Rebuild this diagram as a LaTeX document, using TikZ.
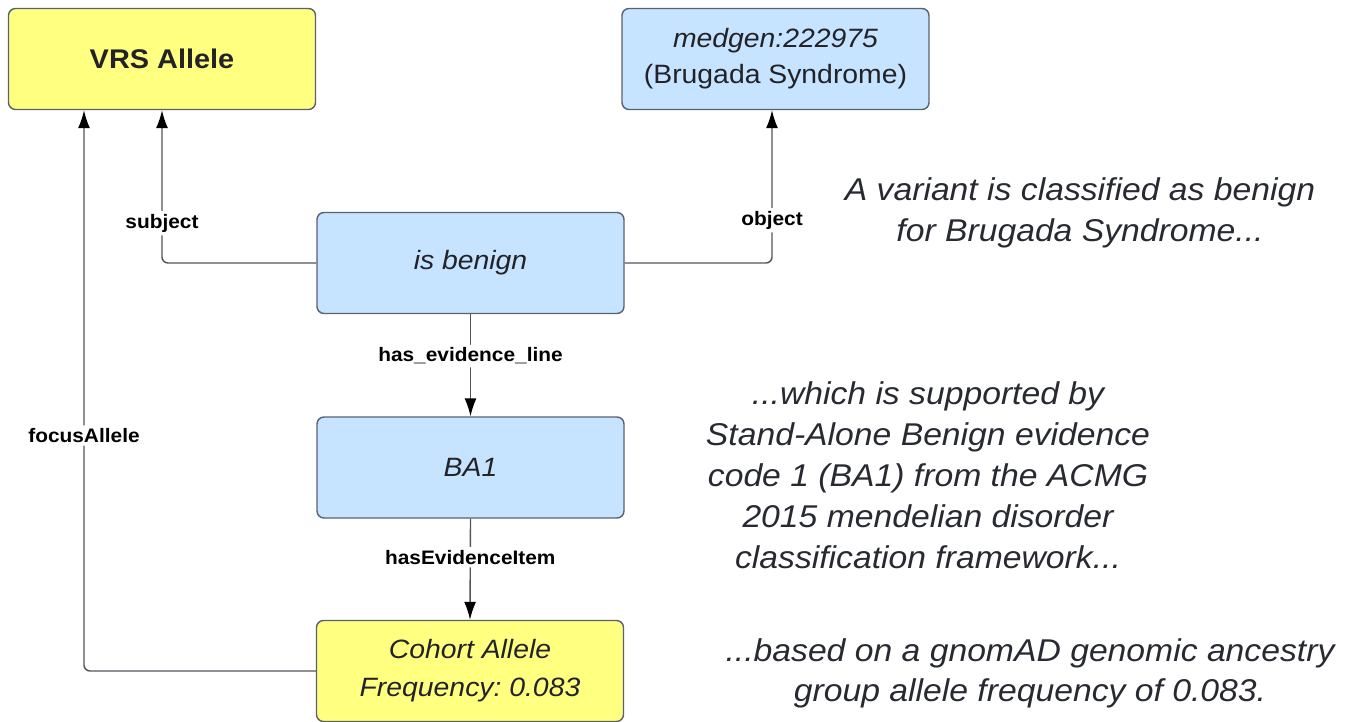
\documentclass[tikz,border=0pt]{standalone}
\usepackage{fontspec}
\setmainfont{Liberation Sans}[FakeStretch=1.07]
\usetikzlibrary{arrows.meta,calc}
\definecolor{yfill}{RGB}{255,255,128}
\definecolor{bfill}{RGB}{198,228,255}
\definecolor{boxline}{RGB}{90,96,110}
\definecolor{conn}{RGB}{80,84,92}
\definecolor{txt}{RGB}{34,34,40}
\definecolor{note}{RGB}{40,42,50}
\frenchspacing
\begin{document}
\begin{tikzpicture}[x=1pt,y=-1pt,
  box/.style={draw=boxline,line width=1.4pt,rounded corners=7pt,minimum width=307pt,minimum height=101pt,align=center,text=txt,inner sep=0pt},
  ybox/.style={box,fill=yfill},
  bbox/.style={box,fill=bfill},
  boxfont/.style={font=\fontsize{26.5}{36}\selectfont\itshape},
  conn/.style={draw=conn,line width=1.4pt,rounded corners=6pt,-{Latex[length=18pt,width=12pt,color=black]}},
  lbl/.style={fill=white,font=\fontsize{19.5}{22}\selectfont\bfseries,text=black,inner xsep=1pt,inner ysep=3pt},
  notetext/.style={align=center,text=note,font=\fontsize{31.5}{41}\selectfont\itshape}
]
\useasboundingbox (0,0) rectangle (1345,722);
\node[ybox,font=\fontsize{27}{30}\selectfont\bfseries] (vrs) at (162,59) {VRS Allele};
\node[bbox,boxfont] (medgen) at (775.5,59) {\rule[-9pt]{0pt}{9pt}medgen:222975\\\upshape(Brugada Syndrome)};
\node[bbox,boxfont] (isb) at (470.5,263) {is benign};
\node[bbox,boxfont] (ba1) at (470.5,467.5) {BA1};
\node[ybox,font=\fontsize{26.5}{38}\selectfont\itshape] (coh) at (470,671) {\rule[-6pt]{0pt}{6pt}Cohort Allele\\Frequency: 0.083};

\draw[conn] (isb.west) -| node[lbl,pos=0.63] (lsub) {subject} (vrs.south);
\draw[conn] (isb.east) -| node[lbl,pos=0.64] (lobj) {object} ([xshift=-3.5pt]medgen.south);
\draw[conn] (coh.west) -| node[lbl,pos=0.71] (lfoc) {focusAllele} ([xshift=-78pt]vrs.south);
\draw[conn] (isb.south) -- node[lbl,pos=0.41] (lhel) {has\_evidence\_line} (ba1.north);
\draw[conn] (ba1.south) -- node[lbl,pos=0.38] (lhei) {hasEvidenceItem} (coh.north);

\node[notetext,font=\fontsize{31.5}{41}\selectfont\itshape] (t1) at (1080,213) {A variant is classified as benign\\for Brugada Syndrome...};
\node[notetext] (t2) at (928,475) {...which is supported by\\Stand-Alone Benign evidence\\code 1 (BA1) from the ACMG\\2015 mendelian disorder\\classification framework...};
\node[notetext,font=\fontsize{31.5}{40}\selectfont\itshape] (t3) at (1030,673) {...based on a gnomAD genomic ancestry\\group allele frequency of 0.083.};
\end{tikzpicture}
\end{document}
